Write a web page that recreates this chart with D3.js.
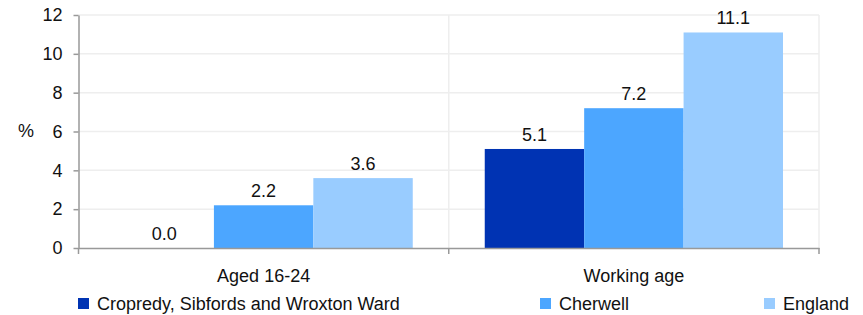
<!DOCTYPE html>
<html>
<head>
<meta charset="utf-8">
<script src="https://cdn.jsdelivr.net/npm/d3@7"></script>
<style>
  body { margin: 0; background: #fff; }
  text { font-family: "Liberation Sans", Arial, sans-serif; fill: #111; }
</style>
</head>
<body>
<svg id="chart" width="863" height="315"></svg>
<script>
// categories and series
var categories = ["Aged 16-24", "Working age"];
var seriesNames = ["Cropredy, Sibfords and Wroxton Ward", "Cherwell", "England"];
var seriesColors = ["#0033b3", "#4ca6ff", "#99ccff"];
var wardValues = [0.0, 5.1];
var cherwellValues = [2.2, 7.2];
var englandValues = [3.6, 11.1];
var yTicks = [0, 2, 4, 6, 8, 10, 12];

var seriesValues = [wardValues, cherwellValues, englandValues];
var fs = "18px";

var svg = d3.select("#chart"),
    margin = {left: 78.5, right: 44, top: 15, bottom: 67},
    width = 863 - margin.left - margin.right,
    height = 315 - margin.top - margin.bottom;

var g = svg.append("g")
    .attr("transform", "translate(" + margin.left + "," + margin.top + ")");

var x0 = d3.scaleBand()
    .domain(categories)
    .range([0, width])
    .paddingInner(0)
    .paddingOuter(0);

var x1 = d3.scaleBand()
    .domain(seriesNames)
    .range([36, x0.bandwidth() - 36]);

var y = d3.scaleLinear()
    .domain([0, 12])
    .range([height, 0]);

// horizontal gridlines
g.selectAll(".hgrid")
    .data(yTicks.slice(1))
    .enter().append("line")
    .attr("x1", 0).attr("x2", width)
    .attr("y1", d => y(d)).attr("y2", d => y(d))
    .attr("stroke", "#eeeeee")
    .attr("stroke-width", 1.5);

// vertical gridlines (category boundaries)
g.selectAll(".vgrid")
    .data(categories.slice(1).concat(["end"]))
    .enter().append("line")
    .attr("x1", (d, i) => i < categories.length - 1 ? x0(d) : width)
    .attr("x2", (d, i) => i < categories.length - 1 ? x0(d) : width)
    .attr("y1", 0).attr("y2", height)
    .attr("stroke", "#eeeeee")
    .attr("stroke-width", 1.5);

// bars
var rows = [];
categories.forEach(function(c, ci) {
    seriesNames.forEach(function(s, si) {
        rows.push({cat: c, series: s, value: seriesValues[si][ci], color: seriesColors[si]});
    });
});

g.selectAll(".bar")
    .data(rows)
    .enter().append("rect")
    .attr("x", d => x0(d.cat) + x1(d.series))
    .attr("y", d => y(d.value))
    .attr("width", x1.bandwidth())
    .attr("height", d => height - y(d.value))
    .attr("fill", d => d.color);

g.selectAll(".val")
    .data(rows)
    .enter().append("text")
    .attr("x", d => x0(d.cat) + x1(d.series) + x1.bandwidth() / 2)
    .attr("y", d => y(d.value) - 8)
    .attr("text-anchor", "middle")
    .style("font-size", fs)
    .text(d => d.value.toFixed(1));

// y axis
var yAxis = d3.axisLeft(y).tickValues(yTicks).tickSize(5).tickPadding(11).tickSizeOuter(0);
var ya = g.append("g").call(yAxis);
ya.select(".domain").attr("stroke", "#999").attr("stroke-width", 1.5);
ya.selectAll(".tick line").attr("stroke", "#999").attr("stroke-width", 1.5);
ya.selectAll("text").style("font-size", fs).attr("fill", "#111");

// x axis
var xa = g.append("g").attr("transform", "translate(0," + height + ")")
    .call(d3.axisBottom(x0).tickSize(0).tickPadding(21));
xa.select(".domain").attr("stroke", "#999").attr("stroke-width", 1.5);
xa.selectAll("text").style("font-size", fs).attr("fill", "#111");

// category boundary ticks
g.selectAll(".xtick")
    .data([0, x0(categories[1]), width])
    .enter().append("line")
    .attr("x1", d => d).attr("x2", d => d)
    .attr("y1", height).attr("y2", height + 6)
    .attr("stroke", "#999")
    .attr("stroke-width", 1.5);

// y label
svg.append("text")
    .attr("x", 26).attr("y", 137)
    .attr("text-anchor", "middle")
    .style("font-size", fs)
    .text("%");

// legend
var legendX = [78, 540, 764];
var legend = svg.selectAll(".legend")
    .data(seriesNames)
    .enter().append("g")
    .attr("transform", (d, i) => "translate(" + legendX[i] + ",298)");
legend.append("rect")
    .attr("width", 11).attr("height", 11)
    .attr("fill", (d, i) => seriesColors[i]);
legend.append("text")
    .attr("x", 19).attr("y", 12)
    .style("font-size", fs)
    .text(d => d);
</script>
</body>
</html>
